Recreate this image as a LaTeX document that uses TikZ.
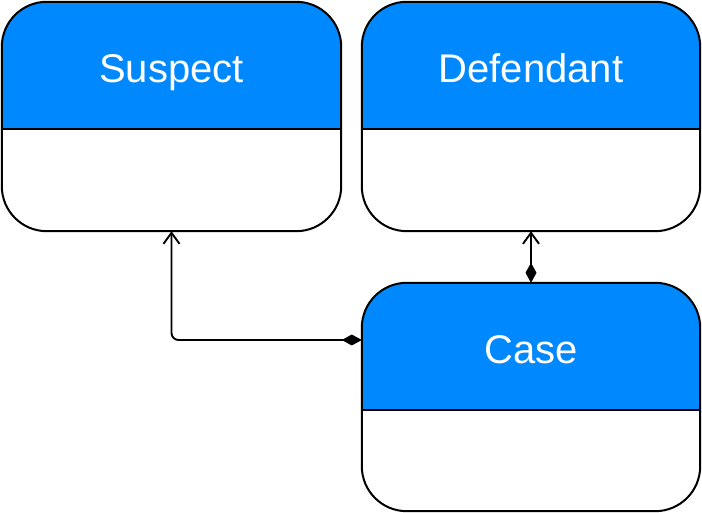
\documentclass[tikz,border=0pt]{standalone}
\usepackage{fontspec}
\setmainfont{Liberation Sans}
\usetikzlibrary{arrows.meta}
\definecolor{hdrblue}{RGB}{0,136,255}
\newcommand\umlclass[7]{%
  \node[minimum width=#4pt, minimum height=#5pt, inner sep=0pt, draw=none] (#1) at (#2,#3) {};
  \fill[white, rounded corners=45pt] (#1.south west) rectangle (#1.north east);
  \fill[hdrblue] ([yshift=-#6pt]#1.north west) -- ([yshift=-45pt]#1.north west)
     arc[start angle=180,end angle=90,radius=45pt] -- ([xshift=-45pt]#1.north east)
     arc[start angle=90,end angle=0,radius=45pt] -- ([yshift=-#6pt]#1.north east) -- cycle;
  \draw[boxline] ([yshift=-#6pt]#1.north west) -- ([yshift=-#6pt]#1.north east);
  \draw[boxline, rounded corners=45pt] (#1.south west) rectangle (#1.north east);
  \node[labeltext, anchor=base] (#1-label) at ([yshift=-81pt]#1.north) {#7};
}
\begin{document}
\begin{tikzpicture}[x=1pt,y=1pt,
  boxline/.style={line width=2pt, black},
  labeltext/.style={text=white, font=\fontsize{40}{48}\selectfont, inner sep=0pt},
  conn/.style={line width=1.9pt, black},
]
\useasboundingbox (0,0) rectangle (702,513);
\umlclass{sus}{171.5}{396.5}{339}{229}{127}{Suspect}
\umlclass{def}{531}{396.5}{338}{229}{127}{Defendant}
\umlclass{case}{531}{116}{338}{228}{127}{Case}
\coordinate (caseport) at ([yshift=57pt]case.west);
\coordinate (bend) at (sus.south |- caseport);
\draw[conn, {Diamond[length=20pt,width=11pt]}-{Straight Barb[length=11pt,width=16pt]}, rounded corners=7pt]
  (caseport) -- (bend) -- (sus.south);
\draw[conn, {Diamond[length=20pt,width=11pt]}-{Straight Barb[length=11pt,width=16pt]}]
  (case.north) -- (def.south);
\end{tikzpicture}
\end{document}
